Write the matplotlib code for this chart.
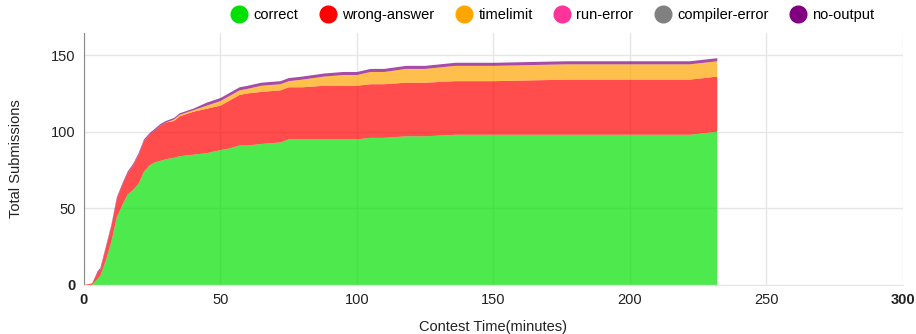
import matplotlib.pyplot as plt
from matplotlib.lines import Line2D

plt.rcParams['font.family'] = ['Liberation Sans', 'DejaVu Sans']

# contest minutes and cumulative submissions per verdict
minutes = [0, 3, 5, 6, 8, 10, 12, 14, 16, 18, 20, 22, 24, 26, 28, 30, 33, 35, 40, 45,
           50, 53, 57, 60, 65, 72, 75, 80, 88, 95, 100, 105, 110, 118, 125, 136, 150,
           177, 200, 222, 232]
correct = [0, 0, 4, 6, 16, 28, 44, 52, 59, 62, 66, 74, 78, 80, 81, 82, 83, 84, 85, 86,
           88, 89, 91, 91, 92, 93, 95, 95, 95, 95, 95, 96, 96, 97, 97, 98, 98,
           98, 98, 98, 100]
wrong_answer = [0, 1, 4, 4, 8, 10, 12, 13, 14, 16, 19, 20, 20, 21, 23, 24, 24, 26, 28, 29,
                29, 31, 33, 34, 34, 34, 34, 34, 35, 35, 35, 35, 35, 35, 35, 35, 35,
                36, 36, 36, 36]
timelimit = [0, 0, 0, 0, 0, 0, 0, 0, 0, 0, 0, 0, 0, 0, 0, 0, 1, 1, 1, 2,
             3, 3, 3, 3, 4, 4, 4, 5, 6, 7, 7, 8, 8, 9, 9, 10, 10,
             10, 10, 10, 10]
run_error = [0] * len(minutes)
compiler_error = [0] * len(minutes)
no_output = [0, 0, 1, 1, 1, 1, 1, 1, 1, 1, 1, 1, 1, 1, 1, 1, 1, 1, 1, 2,
             2, 2, 2, 2, 2, 2, 2, 2, 2, 2, 2, 2, 2, 2, 2, 2, 2,
             2, 2, 2, 2]

labels = ["correct", "wrong-answer", "timelimit", "run-error", "compiler-error", "no-output"]
colors = ["#01e001", "#ff0000", "#ffa500", "#ff3399", "#808080", "#800080"]

fig = plt.figure(figsize=(9.16, 3.34), dpi=100)
ax = fig.add_axes([0.0917, 0.147, 0.894, 0.754])

ax.stackplot(minutes, correct, wrong_answer, timelimit, run_error, compiler_error, no_output,
             colors=colors, alpha=0.7, linewidth=0)

ax.set_xlim(0, 300)
ax.set_ylim(0, 164.4)
ax.set_xticks([0, 50, 100, 150, 200, 250, 300])
ax.set_yticks([0, 50, 100, 150])
ax.grid(True, color="#e6e6e6", linewidth=1)
ax.set_axisbelow(True)
ax.tick_params(length=0, labelsize=10.5, colors="#222222", pad=6)

for s in ["top", "right"]:
    ax.spines[s].set_visible(False)
ax.spines["left"].set_color("#888888")
ax.spines["bottom"].set_color("#e6e6e6")

xl = ax.get_xticklabels()
xl[0].set_fontweight("bold")
xl[-1].set_fontweight("bold")
ax.get_yticklabels()[0].set_fontweight("bold")

ax.set_xlabel("Contest Time(minutes)", fontsize=10.5, color="#222222", labelpad=9)
ax.set_ylabel("Total Submissions", fontsize=10.5, color="#222222", labelpad=20)

handles = [Line2D([], [], marker="o", linestyle="", markersize=12, color=c) for c in colors]
fig.legend(handles, labels, loc="upper center", bbox_to_anchor=(0.600, 1.015), ncol=6,
           frameon=False, fontsize=10.5, handletextpad=0.0, columnspacing=1.0)

fig.savefig("out.png", dpi=100)
